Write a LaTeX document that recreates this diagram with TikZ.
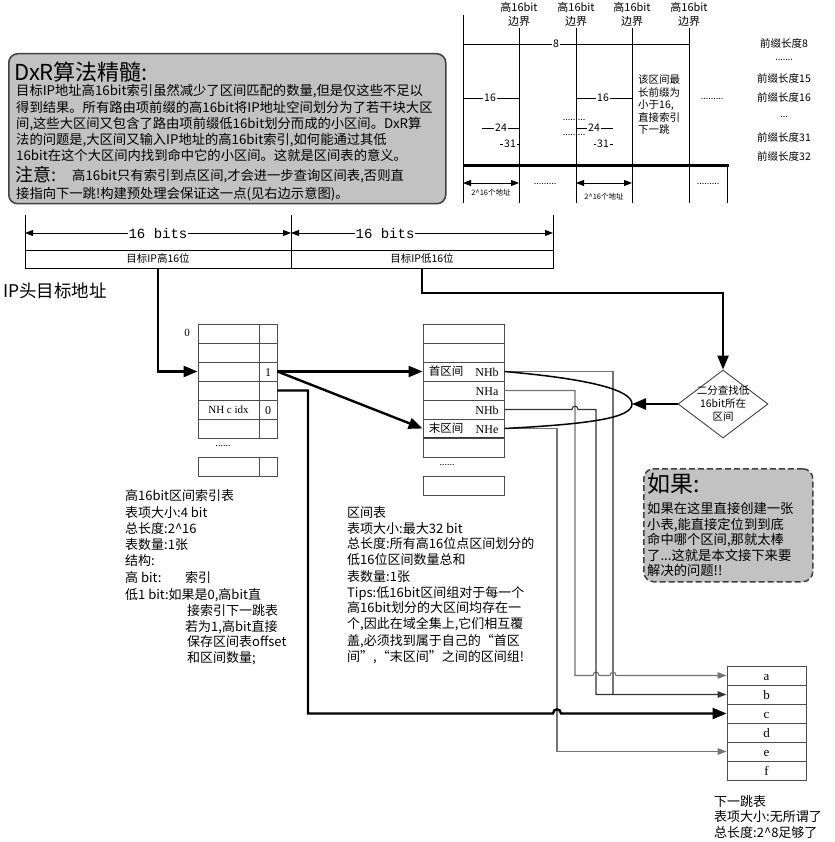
\documentclass[tikz,border=0pt]{standalone}
\usepackage{fontspec}
\setmainfont{Noto Sans CJK SC}
\newfontfamily\serifL{Liberation Serif}
\newfontfamily\monoL{Liberation Mono}
\usetikzlibrary{arrows.meta,shapes.geometric}
\tikzset{
  fs/.style={font=\fontsize{#1}{#1}\selectfont, text height={#1pt*0.88}, text depth={#1pt*0.12}},
  ln/.style={anchor=west, fs=#1},
  cl/.style={anchor=center, fs=#1},
  gline/.style={line width=0.9pt},
  cellbox/.style={draw=black!70, line width=0.9pt, minimum height=19pt},
  conn/.style={draw=black!55, line width=1.1pt},
  sarr/.style={-{Triangle[length=9pt,width=6.5pt]}},
  bigarr/.style={line width=2.4pt, -{Triangle[length=14pt,width=11pt]}},
  darr/.style={{Triangle[length=8pt,width=6pt]}-{Triangle[length=8pt,width=6pt]}},
  graybox/.style={draw=black!75, fill=black!24, line width=1.5pt, anchor=north west},
}
\begin{document}
\begin{tikzpicture}[x=1pt,y=-1pt, every node/.style={inner sep=0pt}]
\useasboundingbox (0,0) rectangle (834,842);

% ---------- DxR box ----------
\node[graybox, rounded corners=9pt, minimum width=437pt, minimum height=150pt] (dxr) at (8,53) {};
\node[ln=22] (dxrt) at (14,72) {DxR算法精髓:};
\node[ln=13.3] (d1) at (16,90) {目标IP地址高16bit索引虽然减少了区间匹配的数量,但是仅这些不足以};
\node[ln=13.3] (d2) at (16,107) {得到结果。所有路由项前缀的高16bit将IP地址空间划分为了若干块大区};
\node[ln=13.3] (d3) at (16,123) {间,这些大区间又包含了路由项前缀低16bit划分而成的小区间。DxR算};
\node[ln=13.3] (d4) at (16,139) {法的问题是,大区间又输入IP地址的高16bit索引,如何能通过其低};
\node[ln=13.3] (d5) at (16,155) {16bit在这个大区间内找到命中它的小区间。这就是区间表的意义。};
\node[ln=18] (d6a) at (15,175) {注意:};
\node[ln=13.3] (d6b) at (72,175) {高16bit只有索引到点区间,才会进一步查询区间表,否则直};
\node[ln=13.3] (d7) at (16,193) {接指向下一跳!构建预处理会保证这一点(见右边示意图)。};

% ---------- top-right sketch ----------
\foreach \x/\n in {519/a,576/b,632/c,689/d} {
  \node[cl=11] (hb\n) at (\x,7) {高16bit};
  \node[cl=11] (bj\n) at (\x,21) {边界};
  \draw[gline] (\x,28) -- (\x,203);
}
\draw[gline] (463,15) -- (463,203);
\draw[gline] (727,166) -- (727,203);
\draw[line width=3pt] (463,166) -- (728.5,166);
\draw[gline] (463,44) -- (689,44);
\node[cl=10.5, fill=white, inner xsep=1pt] (l8) at (556,44) {8};
\draw[gline] (463,98) -- (519,98);
\node[cl=10.5, fill=white, inner xsep=1pt] (l16a) at (490,98) {16};
\draw[gline] (576,98) -- (632,98);
\node[cl=10.5, fill=white, inner xsep=1pt] (l16b) at (603,98) {16};
\draw[gline] (482,128) -- (519,128);
\node[cl=10.5, fill=white, inner xsep=1pt] (l24a) at (501,128) {24};
\draw[gline] (576,128) -- (613,128);
\node[cl=10.5, fill=white, inner xsep=1pt] (l24b) at (594,128) {24};
\draw[gline] (500,144) -- (519,144);
\node[cl=10.5, fill=white, inner xsep=1pt] (l31a) at (510,144) {31};
\draw[gline] (594,144) -- (613,144);
\node[cl=10.5, fill=white, inner xsep=1pt] (l31b) at (603,144) {31};
\node[cl=9] (dt1) at (574,117) {.........};
\node[cl=9] (dt2) at (574,132) {.........};
\node[cl=9] (dt3) at (712,96) {.........};
\node[ln=10.5] (q1) at (638,80) {该区间最};
\node[ln=10.5] (q2) at (638,92.5) {长前缀为};
\node[ln=10.5] (q3) at (638,105) {小于16,};
\node[ln=10.5] (q4) at (638,117.5) {直接索引};
\node[ln=10.5] (q5) at (638,130) {下一跳};
\node[cl=10.5] (p8) at (784,44) {前缀长度8};
\node[cl=9] (pd1) at (784,57) {.......};
\node[cl=10.5] (p15) at (784,79) {前缀长度15};
\node[cl=10.5] (p16) at (784,98) {前缀长度16};
\node[cl=9] (pd2) at (784,114) {...};
\node[cl=10.5] (p31) at (784,138) {前缀长度31};
\node[cl=10.5] (p32) at (784,157) {前缀长度32};
\draw[gline, darr] (463,183) -- (519,183);
\node[cl=7.5] (w1) at (491,193) {2\textasciicircum16个地址};
\draw[gline, darr] (576,183) -- (632,183);
\node[cl=7.5] (w2) at (604,197) {2\textasciicircum16个地址};
\node[cl=9] (dt4) at (545,181) {.........};
\node[cl=9] (dt5) at (708,181) {.........};

% ---------- IP address bar ----------
\draw[gline] (25,215) -- (25,250);
\draw[gline] (291,215) -- (291,250);
\draw[gline] (553,215) -- (553,250);
\draw[gline, darr] (25,233) -- (291,233);
\draw[gline, darr] (291,233) -- (553,233);
\node[cl=14, fill=white, inner xsep=1pt] (b1) at (158,233) {\monoL 16 bits};
\node[cl=14, fill=white, inner xsep=1pt] (b2) at (385,233) {\monoL 16 bits};
\node[draw, gline, minimum width=266pt, minimum height=18pt, fs=10.5] (hi16) at (158,259) {目标IP高16位};
\node[draw, gline, minimum width=262pt, minimum height=18pt, fs=10.5] (lo16) at (422,259) {目标IP低16位};
\node[ln=17.5] (iph) at (3,291) {IP头目标地址};

% ---------- index table ----------
\foreach \r in {1,...,6} {
  \node[cellbox, minimum width=61pt] (il\r) at (228.5,314.5+19*\r) {};
  \node[cellbox, minimum width=18pt] (ir\r) at (268,314.5+19*\r) {};
}
\node[cellbox, minimum width=61pt] (il7) at (228.5,466.5) {};
\node[cellbox, minimum width=18pt] (ir7) at (268,466.5) {};
\node[cl=11] (i0) at (187,332) {\serifL 0};
\node[cl=12] (i1) at (ir3) {\serifL 1};
\node[cl=11] (inh) at (il5) {\serifL NH c idx};
\node[cl=12] (i0b) at (ir5) {\serifL 0};
\node[cl=9] (idots) at (223,443) {......};

% ---------- interval table ----------
\foreach \r in {1,...,7} {
  \node[cellbox, minimum width=81pt] (tr\r) at (463.5,314.5+19*\r) {};
}
\node[cellbox, minimum width=81pt] (tb) at (463.5,485.5) {};
\draw[line width=1.8pt, black!80] (tr7.north west) -- (tr7.north east);
\node[cl=11.5] (t3a) at (446,371.5) {首区间};
\node[cl=12] (t3b) at (487,371.5) {\serifL NHb};
\node[cl=12] (t4b) at (487,390.5) {\serifL NHa};
\node[cl=12] (t5b) at (487,409.5) {\serifL NHb};
\node[cl=11.5] (t6a) at (446,428.5) {末区间};
\node[cl=12] (t6b) at (487,428.5) {\serifL NHe};
\node[cl=9] (tdots) at (447,462) {......};

% ---------- next hop table ----------
\foreach \r/\t in {1/a,2/b,3/c,4/d,5/e,6/f} {
  \node[cellbox, minimum width=79pt, fs=13] (n\t) at (766.5,656.5+19*\r) {\serifL \t};
}

% ---------- diamond ----------
\node[diamond, draw=black!75, line width=0.9pt, minimum width=90pt, minimum height=68pt] (dia) at (723,404) {};
\node[align=center, font=\fontsize{10.5}{13}\selectfont] (diat) at (723,404) {二分查找低\\16bit所在\\区间};
\coordinate (tip) at (632,404);

% ---------- gray connectors ----------
\draw[conn] (tr3.east) -- (613,371.5) -- (613,694.5);
\draw[conn, sarr] (tr4.east) -- (575,390.5) -- (575,675.5) -- (593,675.5)
  .. controls (593,671) and (599,671) .. (599,675.5) -- (610,675.5)
  .. controls (610,671) and (616,671) .. (616,675.5) -- (na.west);
\draw[conn, draw=black!80, sarr] (tr5.east) -- (572,409.5)
  .. controls (572,405) and (578,405) .. (578,409.5) -- (596,409.5) -- (596,694.5) -- (nb.west);
\draw[conn, sarr] (tr6.east) -- (557,428.5) -- (557,751.5) -- (ne.west);

% ---------- main thick paths ----------
\draw[bigarr] (hi16.south) |- (il3.west);
\draw[bigarr] (lo16.south) -- (422,293) -| (dia.north);
\draw[bigarr] (ir3.east) -- (tr3.west);
\draw[bigarr] (ir3.east) -- (tr6.west);
\draw[bigarr] (ir4.east) -- (308,390.5) -- (308,713.5) -- (553,713.5)
  .. controls (553,708) and (561,708) .. (561,713.5) -- (nc.west);
\draw[line width=1.5pt] (tr3.east) .. controls (590,379) and (632,390) .. (tip)
  .. controls (632,418) and (590,424) .. (tr6.east);
\draw[bigarr] (dia.west) -- (tip);

% ---------- descriptions ----------
\node[ln=13] (x1) at (125,496) {高16bit区间索引表};
\node[ln=13] (x2) at (125,513) {表项大小:4 bit};
\node[ln=13] (x3) at (125,529) {总长度:2\textasciicircum16};
\node[ln=13] (x4) at (125,545) {表数量:1张};
\node[ln=13] (x5) at (125,561) {结构:};
\node[ln=13] (x6) at (125,578) {高 bit:};
\node[ln=13] (x6b) at (185,578) {索引};
\node[ln=13] (x7) at (125,595) {低1 bit:如果是0,高bit直};
\node[ln=13] (x8) at (187,611) {接索引下一跳表};
\node[ln=13] (x9) at (185,627) {若为1,高bit直接};
\node[ln=13] (x10) at (187,642) {保存区间表offset};
\node[ln=13] (x11) at (187,658) {和区间数量;};

\node[ln=13] (y1) at (347,513) {区间表};
\node[ln=13] (y2) at (347,529) {表项大小:最大32 bit};
\node[ln=13] (y3) at (347,544) {总长度:所有高16位点区间划分的};
\node[ln=13] (y4) at (347,560) {低16位区间数量总和};
\node[ln=13] (y5) at (347,577) {表数量:1张};
\node[ln=13] (y6) at (347,593) {Tips:低16bit区间组对于每一个};
\node[ln=13] (y7) at (347,608) {高16bit划分的大区间均存在一};
\node[ln=13] (y8) at (347,624) {个,因此在域全集上,它们相互覆};
\node[ln=13] (y9) at (347,641) {盖,必须找到属于自己的“首区};
\node[ln=13] (y10) at (347,657) {间”,“末区间”之间的区间组!};

\node[ln=13] (z1) at (714,802) {下一跳表};
\node[ln=13] (z2) at (714,817) {表项大小:无所谓了};
\node[ln=13] (z3) at (714,833) {总长度:2\textasciicircum8足够了};

% ---------- "如果" box ----------
\node[graybox, dash pattern=on 6pt off 3pt, rounded corners=10pt, minimum width=169pt, minimum height=113pt] (rg) at (643,468) {};
\node[ln=23] (rgt) at (647,484) {如果:};
\node[ln=13.3] (r1) at (647,508.5) {如果在这里直接创建一张};
\node[ln=13.3] (r2) at (647,524) {小表,能直接定位到到底};
\node[ln=13.3] (r3) at (647,539.5) {命中哪个区间,那就太棒};
\node[ln=13.3] (r4) at (647,555) {了...这就是本文接下来要};
\node[ln=13.3] (r5) at (647,570.5) {解决的问题!!};
\end{tikzpicture}
\end{document}
